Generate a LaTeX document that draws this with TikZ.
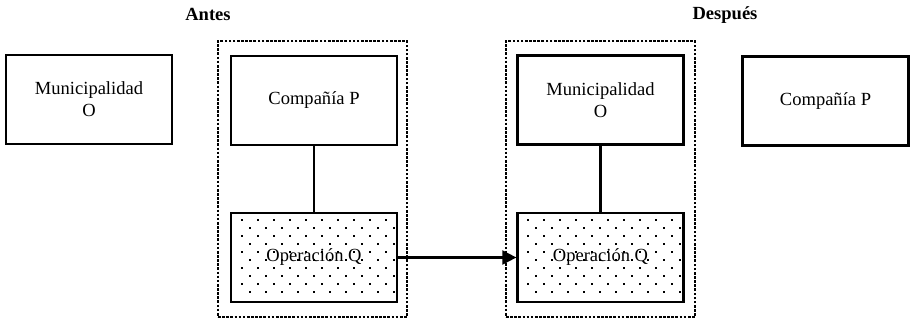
\documentclass[tikz,border=0pt]{standalone}
\usepackage{fontspec}
\setmainfont{Liberation Serif}
\usetikzlibrary{arrows.meta,calc}
\newcommand\mydotgrid[1]{%
  \begin{scope}
    \clip ($(#1.north west)+(2,2)$) rectangle ($(#1.south east)+(-2,-2)$);
    \foreach \r in {0,...,9}{\foreach \c in {0,...,9}{%
      \fill ($(#1.north west)+({12+16*\c+8*mod(\r,2)},{8+8*\r})$) +(-0.9,-0.9) rectangle +(0.9,0.9);}}
  \end{scope}}
\begin{document}
\begin{tikzpicture}[x=0.75pt,y=-0.75pt,
  box/.style={draw,line width=1.7pt,minimum width=124.5pt,minimum height=66.75pt,inner sep=0pt,align=center,font=\fontsize{13.9}{16.5}\selectfont},
  group/.style={draw,line width=1.8pt,dash pattern=on 2pt off 1.1pt,minimum width=141.75pt,minimum height=207pt,inner sep=0pt},
  title/.style={font=\fontsize{13.9}{16.5}\selectfont\bfseries,inner sep=0pt},
  link/.style={line width=1.6pt}]
\useasboundingbox (0,0) rectangle (912,320);
% titles
\node[title] (antes) at (208,14) {Antes};
\node[title] (despues) at (725,15) {Después};
% groups
\node[group] (g1) at (312.5,179) {};
\node[group] (g2) at (600.5,179) {};
% boxes
\node[box] (mun1) at (89,99.5) {Municipalidad\\O};
\node[box] (cp1) at (314,100.5) {Compañía P};
\node[box] (opq1) at (314,257.5) {Operación Q};
\node[box] (mun2) at (600.5,100) {Municipalidad\\O};
\node[box] (opq2) at (600.5,257.5) {Operación Q};
\node[box] (cp2) at (825.5,101) {Compañía P};
% dot fills
\mydotgrid{opq1}
\mydotgrid{opq2}
% connectors
\draw[link] (cp1) -- (opq1);
\draw[link] (mun2) -- (opq2);
\draw[link,-{Triangle[length=10.5pt,width=10.5pt]}] (opq1) -- (opq2);
\end{tikzpicture}
\end{document}
